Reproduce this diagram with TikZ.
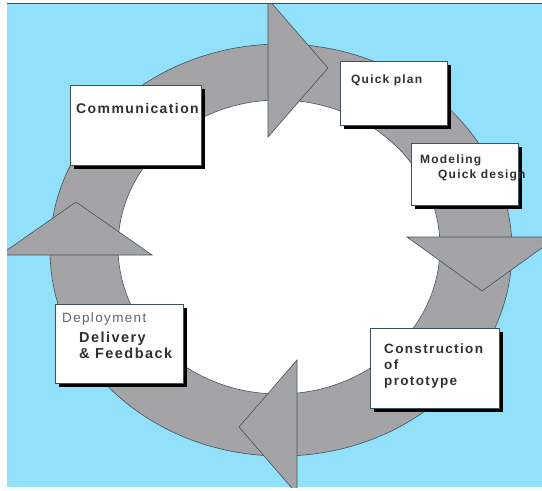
\documentclass[tikz,border=0pt]{standalone}
\usepackage{fontspec}
\setmainfont{Liberation Sans}
\newfontfamily\boxfont[LetterSpace=10]{Liberation Sans}
\usetikzlibrary{shadows}
\definecolor{sky}{RGB}{146,224,250}
\definecolor{band}{RGB}{164,164,167}
\definecolor{rim}{RGB}{62,82,96}
\definecolor{ink}{RGB}{48,48,48}

\begin{document}
\begin{tikzpicture}[x=1pt,y=-1pt,
    phase/.style={draw=rim,fill=white,line width=0.6pt,anchor=north west,inner sep=0pt,
      drop shadow={opacity=1,fill=black,shadow xshift=4pt,shadow yshift=-4pt}},
    lbl/.style={anchor=base west,inner sep=0pt,align=left,text=ink,
      font=\boxfont\bfseries\fontsize{#1}{16}\selectfont},
    head/.style={fill=band,draw=rim,line width=0.6pt,line join=miter}]

  \useasboundingbox (0,0) rectangle (542,491);

  \fill[sky] (7,3) rectangle (542,487);

  \begin{scope}
    \clip (7,4) rectangle (542,487);
    \filldraw[fill=band,draw=rim,line width=0.6pt] (281,250) ellipse [x radius=231,y radius=206];
    \filldraw[fill=white,draw=rim,line width=0.6pt] (279,247) ellipse [x radius=161,y radius=147];
    \path[head] (268,-1) -- (328,68) -- (268,137) -- cycle
                (407,237) -- (557,237) -- (482,291) -- cycle
                (297,360) -- (239,427) -- (297,494) -- cycle
                (152,255) -- (76,202) -- (0,255) -- cycle;
  \end{scope}

  \draw[rim,line width=1.5pt] (7,3.5) -- (542,3.5);

  \node[phase,minimum width=131,minimum height=80] (comm) at (70,85) {};
  \node[phase,minimum width=107,minimum height=64] (plan) at (340,61) {};
  \node[phase,minimum width=107,minimum height=62] (model) at (411,143) {};
  \node[phase,minimum width=129,minimum height=80] (build) at (370,328) {};
  \node[phase,minimum width=128,minimum height=79] (deploy) at (55,304) {};

  \node[lbl=14] (commtxt) at (76,113) {Communication};
  \node[lbl=12] (plantxt) at (351,83) {Quick plan};
  \node[lbl=12] (modeltxt) at (420,178) {Modeling\\[-1pt]\hspace*{18pt}Quick design};
  \node[lbl=13.5] (buildtxt) at (384,385) {Construction\\of\\prototype};
  \node[lbl=13.5,font=\boxfont\fontsize{13.5}{16}\selectfont,text=ink!75] (deploytxt) at (62,322) {Deployment};
  \node[lbl=14.5] (delivtxt) at (79,358) {Delivery\\\& Feedback};
\end{tikzpicture}
\end{document}
